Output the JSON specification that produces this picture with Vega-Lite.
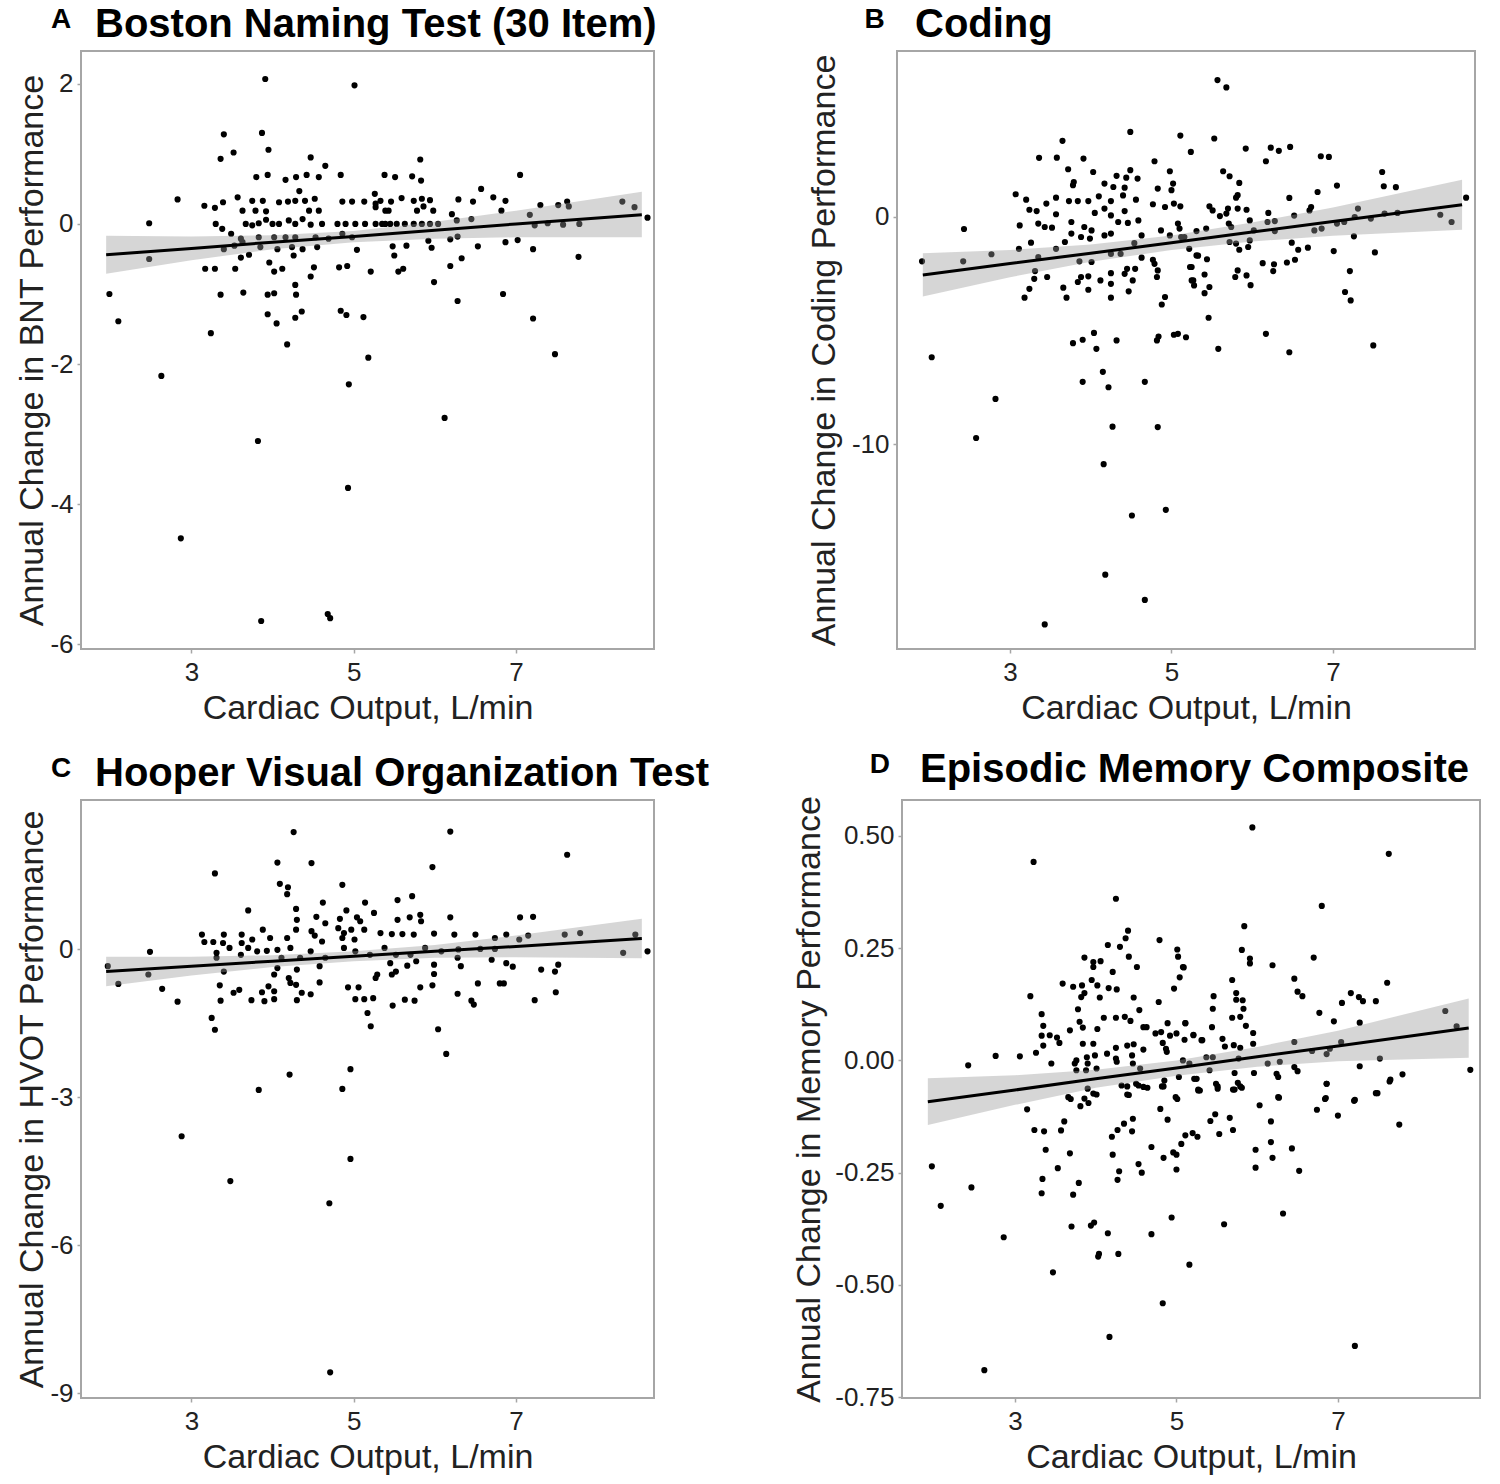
{
  "$schema": "https://vega.github.io/schema/vega-lite/v6.json",
  "background": "white",
  "padding": {"left": 14, "top": 4, "right": 4, "bottom": 4},
  "datasets": {
    "ptsA": [
      {"x":3.91,"y":2.07},{"x":5.01,"y":1.98},{"x":3.40,"y":1.28},{"x":3.87,"y":1.30},{"x":3.52,"y":1.02},{"x":3.36,"y":0.93},{"x":3.95,"y":1.06},{"x":4.47,"y":0.95},{"x":4.65,"y":0.83},{"x":3.80,"y":0.67},
      {"x":3.94,"y":0.70},{"x":4.16,"y":0.63},{"x":4.29,"y":0.67},{"x":4.42,"y":0.70},{"x":4.57,"y":0.67},{"x":4.84,"y":0.70},{"x":5.38,"y":0.70},{"x":4.33,"y":0.47},{"x":5.26,"y":0.43},{"x":2.83,"y":0.35},
      {"x":3.16,"y":0.26},{"x":3.29,"y":0.23},{"x":3.39,"y":0.31},{"x":3.57,"y":0.38},{"x":3.63,"y":0.19},{"x":3.75,"y":0.33},{"x":3.88,"y":0.33},{"x":3.79,"y":0.19},{"x":3.92,"y":0.18},{"x":4.08,"y":0.31},
      {"x":4.19,"y":0.32},{"x":4.28,"y":0.33},{"x":4.40,"y":0.33},{"x":4.52,"y":0.36},{"x":4.45,"y":0.19},{"x":4.57,"y":0.19},{"x":4.86,"y":0.32},{"x":4.98,"y":0.32},{"x":5.13,"y":0.32},{"x":5.27,"y":0.29},
      {"x":5.39,"y":0.19},{"x":2.48,"y":0.01},{"x":3.30,"y":0.0},{"x":3.38,"y":-0.07},{"x":3.49,"y":-0.14},{"x":3.67,"y":0.0},{"x":3.75,"y":-0.02},{"x":3.83,"y":0.01},{"x":3.92,"y":0.06},{"x":4.0,"y":0.0},
      {"x":4.08,"y":0.0},{"x":4.20,"y":0.05},{"x":4.28,"y":0.0},{"x":4.37,"y":0.07},{"x":4.47,"y":-0.01},{"x":4.61,"y":0.0},{"x":4.80,"y":0.0},{"x":4.90,"y":0.0},{"x":5.02,"y":0.0},{"x":5.14,"y":0.0},
      {"x":5.27,"y":0.0},{"x":5.39,"y":0.0},{"x":4.86,"y":-0.14},{"x":3.61,"y":-0.21},{"x":3.83,"y":-0.19},{"x":4.02,"y":-0.19},{"x":4.16,"y":-0.19},{"x":4.28,"y":-0.19},{"x":4.53,"y":-0.19},{"x":4.69,"y":-0.21},
      {"x":4.98,"y":-0.19},{"x":2.48,"y":-0.5},{"x":3.40,"y":-0.36},{"x":3.53,"y":-0.31},{"x":3.63,"y":-0.26},{"x":3.85,"y":-0.33},{"x":4.06,"y":-0.36},{"x":4.24,"y":-0.33},{"x":4.37,"y":-0.36},{"x":4.55,"y":-0.33},
      {"x":3.61,"y":-0.48},{"x":3.71,"y":-0.44},{"x":4.26,"y":-0.45},{"x":5.04,"y":-0.37},{"x":3.17,"y":-0.64},{"x":3.29,"y":-0.64},{"x":3.54,"y":-0.64},{"x":3.96,"y":-0.55},{"x":4.02,"y":-0.68},{"x":4.12,"y":-0.64},
      {"x":4.51,"y":-0.62},{"x":4.47,"y":-0.75},{"x":4.82,"y":-0.62},{"x":4.92,"y":-0.6},{"x":5.21,"y":-0.68},{"x":1.99,"y":-1.0},{"x":2.10,"y":-1.39},{"x":3.36,"y":-1.01},{"x":3.64,"y":-0.98},{"x":3.94,"y":-1.01},
      {"x":4.02,"y":-0.99},{"x":4.28,"y":-0.87},{"x":4.29,"y":-1.01},{"x":3.94,"y":-1.29},{"x":4.05,"y":-1.42},{"x":4.28,"y":-1.34},{"x":4.36,"y":-1.25},{"x":4.84,"y":-1.24},{"x":4.91,"y":-1.30},{"x":5.12,"y":-1.33},
      {"x":3.24,"y":-1.56},{"x":4.18,"y":-1.72},{"x":5.18,"y":-1.91},
      {"x":5.82,"y":0.92},{"x":5.51,"y":0.67},{"x":5.72,"y":0.68},{"x":5.83,"y":0.62},{"x":7.05,"y":0.70},{"x":6.57,"y":0.50},{"x":6.72,"y":0.38},{"x":6.29,"y":0.35},{"x":6.47,"y":0.32},{"x":6.87,"y":0.33},
      {"x":5.33,"y":0.33},{"x":5.27,"y":0.24},{"x":5.46,"y":0.32},{"x":5.59,"y":0.37},{"x":5.74,"y":0.33},{"x":5.84,"y":0.36},{"x":5.94,"y":0.34},{"x":5.43,"y":0.19},{"x":5.78,"y":0.19},{"x":5.86,"y":0.25},
      {"x":5.98,"y":0.19},{"x":6.21,"y":0.14},{"x":6.82,"y":0.19},{"x":7.17,"y":0.13},{"x":7.30,"y":0.27},{"x":7.52,"y":0.27},{"x":7.63,"y":0.32},{"x":7.65,"y":0.25},{"x":8.31,"y":0.32},{"x":8.46,"y":0.24},
      {"x":8.62,"y":0.09},{"x":5.35,"y":0.0},{"x":5.45,"y":0.0},{"x":5.53,"y":0.0},{"x":5.63,"y":0.0},{"x":5.74,"y":0.0},{"x":5.84,"y":0.0},{"x":5.94,"y":0.0},{"x":6.04,"y":0.0},{"x":6.27,"y":0.05},
      {"x":6.45,"y":0.07},{"x":7.23,"y":-0.02},{"x":7.39,"y":0.01},{"x":7.58,"y":-0.01},{"x":7.78,"y":0.0},{"x":5.48,"y":-0.32},{"x":5.65,"y":-0.31},{"x":5.92,"y":-0.24},{"x":5.96,"y":-0.34},{"x":6.19,"y":-0.22},
      {"x":6.28,"y":-0.18},{"x":6.53,"y":-0.32},{"x":6.87,"y":-0.26},{"x":7.02,"y":-0.23},{"x":7.21,"y":-0.36},{"x":5.50,"y":-0.45},{"x":6.33,"y":-0.49},{"x":7.77,"y":-0.47},{"x":5.55,"y":-0.68},{"x":5.61,"y":-0.64},
      {"x":6.19,"y":-0.60},{"x":5.99,"y":-0.83},{"x":6.28,"y":-1.10},{"x":6.84,"y":-1.0},{"x":7.21,"y":-1.35},{"x":7.48,"y":-1.86},
      {"x":2.63,"y":-2.17},{"x":3.82,"y":-3.1},{"x":2.87,"y":-4.49},{"x":4.94,"y":-2.29},{"x":4.93,"y":-3.77},{"x":3.86,"y":-5.67},{"x":4.68,"y":-5.57},{"x":4.71,"y":-5.63},{"x":6.12,"y":-2.77}
    ],
    "fitA": [
      {"x":1.95,"fit":-0.44,"lo":-0.71,"hi":-0.17},{"x":3,"fit":-0.35,"lo":-0.52,"hi":-0.18},{"x":4,"fit":-0.26,"lo":-0.36,"hi":-0.16},{"x":5,"fit":-0.18,"lo":-0.26,"hi":-0.10},
      {"x":6,"fit":-0.09,"lo":-0.21,"hi":0.03},{"x":7,"fit":0.0,"lo":-0.19,"hi":0.19},{"x":8.55,"fit":0.13,"lo":-0.19,"hi":0.46}
    ],
    "ptsB": [
      {"x":4.49,"y":3.74},{"x":5.11,"y":3.58},{"x":5.24,"y":2.86},{"x":3.65,"y":3.35},{"x":3.36,"y":2.60},{"x":3.58,"y":2.61},{"x":3.91,"y":2.57},{"x":4.79,"y":2.45},{"x":3.72,"y":2.10},{"x":4.03,"y":1.98},
      {"x":4.49,"y":2.06},{"x":4.98,"y":2.01},{"x":4.32,"y":1.81},{"x":4.44,"y":1.73},{"x":4.58,"y":1.69},{"x":3.78,"y":1.40},{"x":3.79,"y":1.54},{"x":4.17,"y":1.47},{"x":4.28,"y":1.32},{"x":4.42,"y":1.29},
      {"x":4.83,"y":1.25},{"x":5.02,"y":1.47},{"x":5.0,"y":1.18},{"x":3.07,"y":1.0},{"x":3.20,"y":0.76},{"x":3.57,"y":0.85},{"x":3.45,"y":0.59},{"x":3.73,"y":0.70},{"x":3.84,"y":0.70},{"x":3.97,"y":0.70},
      {"x":4.10,"y":0.91},{"x":4.25,"y":0.70},{"x":4.40,"y":0.95},{"x":4.56,"y":0.76},{"x":4.77,"y":0.56},{"x":4.92,"y":0.44},{"x":5.03,"y":0.59},{"x":5.11,"y":0.47},{"x":3.24,"y":0.32},{"x":3.33,"y":0.26},
      {"x":3.57,"y":0.12},{"x":4.05,"y":0.18},{"x":4.17,"y":0.37},{"x":4.25,"y":0.07},{"x":4.42,"y":0.26},{"x":3.76,"y":-0.22},{"x":3.12,"y":-0.37},{"x":3.35,"y":-0.29},{"x":3.43,"y":-0.44},{"x":3.52,"y":-0.47},
      {"x":3.92,"y":-0.44},{"x":4.01,"y":-0.59},{"x":4.34,"y":-0.22},{"x":4.46,"y":-0.26},{"x":4.59,"y":-0.15},{"x":4.63,"y":-0.81},{"x":2.43,"y":-0.53},{"x":3.68,"y":-1.10},{"x":3.76,"y":-0.73},{"x":3.88,"y":-0.88},
      {"x":3.99,"y":-0.95},{"x":4.17,"y":-0.81},{"x":4.25,"y":-0.73},{"x":4.87,"y":-0.59},{"x":4.98,"y":-0.81},{"x":5.10,"y":-0.51},{"x":5.16,"y":-0.88},{"x":3.26,"y":-1.13},{"x":4.54,"y":-1.15},{"x":3.11,"y":-1.40},
      {"x":3.57,"y":-1.40},{"x":2.77,"y":-1.64},{"x":1.91,"y":-1.95},{"x":2.42,"y":-1.95},{"x":3.35,"y":-1.76},{"x":3.86,"y":-1.95},{"x":4.01,"y":-1.98},{"x":4.25,"y":-1.62},{"x":4.37,"y":-1.62},{"x":4.63,"y":-1.79},
      {"x":4.77,"y":-1.88},{"x":4.79,"y":-2.06},{"x":5.31,"y":-1.69},{"x":3.31,"y":-2.38},{"x":3.30,"y":-2.72},{"x":3.46,"y":-2.64},{"x":3.88,"y":-2.64},{"x":3.84,"y":-2.86},{"x":3.97,"y":-2.61},{"x":4.12,"y":-2.79},
      {"x":4.25,"y":-2.47},{"x":4.25,"y":-2.94},{"x":4.42,"y":-2.50},{"x":4.45,"y":-2.28},{"x":4.55,"y":-2.28},{"x":4.52,"y":-2.79},{"x":4.83,"y":-2.35},{"x":4.82,"y":-2.64},{"x":5.25,"y":-2.20},{"x":5.27,"y":-2.79},
      {"x":5.28,"y":-3.01},{"x":3.24,"y":-3.16},{"x":3.18,"y":-3.55},{"x":3.66,"y":-3.11},{"x":3.70,"y":-3.55},{"x":3.97,"y":-3.20},{"x":4.25,"y":-3.55},{"x":4.47,"y":-3.27},{"x":4.92,"y":-3.52},{"x":4.88,"y":-3.85},
      {"x":3.78,"y":-5.55},{"x":3.90,"y":-5.40},{"x":4.04,"y":-5.10},{"x":4.07,"y":-5.80},{"x":4.32,"y":-5.43},{"x":4.82,"y":-5.43},{"x":4.84,"y":-5.26},{"x":5.03,"y":-5.18},{"x":5.18,"y":-5.29},{"x":2.03,"y":-6.17},
      {"x":5.57,"y":6.02},{"x":5.68,"y":5.70},{"x":5.53,"y":3.45},{"x":5.92,"y":3.01},{"x":6.17,"y":2.45},{"x":6.23,"y":3.05},{"x":6.33,"y":2.91},{"x":6.47,"y":3.08},{"x":6.85,"y":2.67},{"x":6.95,"y":2.64},
      {"x":7.61,"y":1.98},{"x":7.63,"y":1.35},{"x":7.78,"y":1.31},{"x":7.05,"y":1.38},{"x":6.81,"y":1.10},{"x":6.46,"y":0.84},{"x":6.73,"y":0.44},{"x":6.71,"y":0.29},{"x":5.64,"y":2.01},{"x":5.72,"y":1.79},
      {"x":5.84,"y":1.50},{"x":5.80,"y":0.85},{"x":5.82,"y":0.96},{"x":5.47,"y":0.47},{"x":5.51,"y":0.29},{"x":5.60,"y":0.04},{"x":5.70,"y":0.37},{"x":5.82,"y":0.37},{"x":5.93,"y":0.32},{"x":5.68,"y":0.15},
      {"x":5.71,"y":-0.29},{"x":5.74,"y":-0.44},{"x":5.97,"y":-0.15},{"x":6.20,"y":0.18},{"x":6.19,"y":-0.22},{"x":6.28,"y":-0.18},{"x":6.52,"y":0.06},{"x":5.08,"y":-0.29},{"x":5.12,"y":-0.88},{"x":5.31,"y":-0.62},
      {"x":5.43,"y":-0.51},{"x":6.02,"y":-0.59},{"x":6.28,"y":-0.62},{"x":6.77,"y":-0.59},{"x":6.86,"y":-0.51},{"x":7.05,"y":-0.29},{"x":7.14,"y":-0.22},{"x":7.31,"y":0.37},{"x":7.27,"y":0.0},{"x":7.47,"y":-0.07},
      {"x":7.64,"y":0.15},{"x":7.80,"y":0.18},{"x":8.33,"y":0.10},{"x":8.47,"y":-0.22},{"x":8.65,"y":0.85},{"x":7.26,"y":-0.85},{"x":5.72,"y":-1.10},{"x":5.80,"y":-1.17},{"x":5.84,"y":-1.44},{"x":5.97,"y":-1.03},
      {"x":5.95,"y":-1.32},{"x":5.22,"y":-1.40},{"x":6.49,"y":-1.13},{"x":6.57,"y":-1.44},{"x":6.69,"y":-1.35},{"x":7.01,"y":-1.50},{"x":7.52,"y":-1.56},{"x":5.33,"y":-1.70},{"x":5.44,"y":-1.86},{"x":5.23,"y":-2.20},
      {"x":5.41,"y":-2.53},{"x":5.25,"y":-2.79},{"x":5.41,"y":-3.35},{"x":5.47,"y":-3.08},{"x":6.13,"y":-2.03},{"x":6.27,"y":-2.08},{"x":6.26,"y":-2.38},{"x":6.43,"y":-2.0},{"x":6.53,"y":-1.88},{"x":5.82,"y":-2.35},
      {"x":5.79,"y":-2.64},{"x":5.93,"y":-2.57},{"x":5.98,"y":-3.0},{"x":7.21,"y":-2.38},{"x":7.15,"y":-3.30},{"x":7.22,"y":-3.67},{"x":5.46,"y":-4.43},{"x":5.08,"y":-5.14},{"x":6.17,"y":-5.14},{"x":7.50,"y":-5.65},
      {"x":5.58,"y":-5.80},{"x":6.46,"y":-5.95},
      {"x":2.82,"y":-8.0},{"x":2.58,"y":-9.72},{"x":4.15,"y":-6.81},{"x":3.90,"y":-7.25},{"x":4.22,"y":-7.49},{"x":4.67,"y":-7.25},{"x":4.27,"y":-9.22},{"x":4.83,"y":-9.24},{"x":4.16,"y":-10.87},{"x":4.51,"y":-13.13},
      {"x":4.93,"y":-12.88},{"x":4.18,"y":-15.73},{"x":4.67,"y":-16.84},{"x":3.43,"y":-17.92}
    ],
    "fitB": [
      {"x":1.92,"fit":-2.55,"lo":-3.50,"hi":-1.60},{"x":3,"fit":-2.05,"lo":-2.65,"hi":-1.45},{"x":4,"fit":-1.59,"lo":-1.97,"hi":-1.21},{"x":5,"fit":-1.13,"lo":-1.45,"hi":-0.81},
      {"x":6,"fit":-0.66,"lo":-1.08,"hi":-0.24},{"x":7,"fit":-0.20,"lo":-0.82,"hi":0.42},{"x":8.6,"fit":0.54,"lo":-0.56,"hi":1.64}
    ],
    "ptsC": [
      {"x":4.26,"y":2.38},{"x":6.19,"y":2.39},{"x":7.63,"y":1.92},{"x":3.29,"y":1.54},{"x":4.06,"y":1.76},{"x":4.48,"y":1.75},{"x":5.97,"y":1.67},{"x":4.09,"y":1.33},{"x":4.19,"y":1.26},{"x":4.18,"y":1.12},
      {"x":4.86,"y":1.31},{"x":3.70,"y":0.79},{"x":4.62,"y":0.95},{"x":5.14,"y":0.95},{"x":5.54,"y":1.00},{"x":5.72,"y":1.08},{"x":4.29,"y":0.82},{"x":4.91,"y":0.79},{"x":5.25,"y":0.74},{"x":4.54,"y":0.66},
      {"x":4.65,"y":0.53},{"x":4.83,"y":0.62},{"x":5.04,"y":0.65},{"x":5.08,"y":0.57},{"x":5.54,"y":0.60},{"x":5.69,"y":0.65},{"x":5.82,"y":0.70},{"x":5.83,"y":0.57},{"x":6.19,"y":0.65},{"x":7.05,"y":0.65},
      {"x":7.21,"y":0.66},{"x":4.30,"y":0.60},{"x":4.29,"y":0.40},{"x":4.48,"y":0.37},{"x":4.52,"y":0.28},{"x":4.61,"y":0.16},{"x":4.81,"y":0.43},{"x":4.88,"y":0.33},{"x":4.86,"y":0.23},{"x":4.97,"y":0.40},
      {"x":5.01,"y":0.20},{"x":5.13,"y":0.40},{"x":5.33,"y":0.33},{"x":5.47,"y":0.31},{"x":5.60,"y":0.31},{"x":5.74,"y":0.30},{"x":5.99,"y":0.32},{"x":6.24,"y":0.30},{"x":6.50,"y":0.30},{"x":6.74,"y":0.23},
      {"x":6.88,"y":0.30},{"x":7.04,"y":0.20},{"x":7.15,"y":0.28},{"x":7.60,"y":0.30},{"x":7.79,"y":0.33},{"x":8.47,"y":0.30},{"x":3.13,"y":0.30},{"x":3.16,"y":0.15},{"x":3.27,"y":0.15},{"x":3.40,"y":0.30},
      {"x":3.39,"y":0.13},{"x":3.62,"y":0.30},{"x":3.62,"y":0.13},{"x":3.75,"y":0.20},{"x":3.88,"y":0.40},{"x":3.97,"y":0.23},{"x":4.18,"y":0.23},{"x":3.47,"y":0.03},{"x":3.31,"y":-0.07},{"x":3.31,"y":-0.17},
      {"x":3.61,"y":-0.11},{"x":3.70,"y":0.03},{"x":3.81,"y":-0.04},{"x":3.93,"y":-0.03},{"x":4.06,"y":-0.01},{"x":4.11,"y":-0.17},{"x":4.22,"y":0.03},{"x":4.34,"y":-0.17},{"x":4.47,"y":-0.04},{"x":4.65,"y":-0.17},
      {"x":4.88,"y":0.03},{"x":5.02,"y":-0.04},{"x":5.20,"y":-0.11},{"x":5.38,"y":0.03},{"x":5.52,"y":-0.11},{"x":5.70,"y":-0.11},{"x":5.88,"y":0.03},{"x":6.08,"y":-0.04},{"x":6.29,"y":0.0},{"x":6.56,"y":0.01},
      {"x":6.74,"y":0.01},{"x":8.32,"y":-0.07},{"x":8.62,"y":-0.04},{"x":2.49,"y":-0.05},{"x":1.97,"y":-0.34},{"x":2.10,"y":-0.70},{"x":2.47,"y":-0.51},{"x":2.64,"y":-0.80},{"x":2.83,"y":-1.06},{"x":3.40,"y":-0.45},
      {"x":3.35,"y":-0.73},{"x":3.36,"y":-1.04},{"x":3.52,"y":-0.88},{"x":3.59,"y":-0.82},{"x":3.74,"y":-1.03},{"x":3.87,"y":-0.87},{"x":3.90,"y":-1.05},{"x":3.95,"y":-0.75},{"x":4.02,"y":-0.85},{"x":4.02,"y":-1.01},
      {"x":4.02,"y":-0.51},{"x":4.06,"y":-0.38},{"x":4.20,"y":-0.58},{"x":4.22,"y":-0.68},{"x":4.29,"y":-0.72},{"x":4.30,"y":-0.41},{"x":4.30,"y":-1.03},{"x":4.36,"y":-0.88},{"x":4.47,"y":-0.91},{"x":4.58,"y":-0.34},
      {"x":4.58,"y":-0.67},{"x":4.93,"y":-0.77},{"x":5.06,"y":-0.77},{"x":5.02,"y":-1.01},{"x":5.13,"y":-1.01},{"x":5.24,"y":-0.99},{"x":5.17,"y":-1.29},{"x":5.21,"y":-1.56},{"x":5.29,"y":-0.51},{"x":5.27,"y":-0.58},
      {"x":5.48,"y":-1.14},{"x":5.47,"y":-0.51},{"x":5.52,"y":-0.45},{"x":5.66,"y":-0.33},{"x":5.45,"y":-0.28},{"x":5.63,"y":-1.02},{"x":5.75,"y":-1.04},{"x":5.77,"y":-0.24},{"x":5.82,"y":-0.77},{"x":5.99,"y":-0.31},
      {"x":5.99,"y":-0.50},{"x":5.97,"y":-0.73},{"x":6.04,"y":-1.62},{"x":6.14,"y":-2.12},{"x":6.28,"y":-0.17},{"x":6.32,"y":-0.34},{"x":6.28,"y":-0.90},{"x":6.45,"y":-1.04},{"x":6.48,"y":-1.12},{"x":6.53,"y":-0.69},
      {"x":6.70,"y":-0.21},{"x":6.80,"y":-0.69},{"x":6.85,"y":-0.69},{"x":6.88,"y":-0.28},{"x":6.96,"y":-0.35},{"x":7.23,"y":-1.03},{"x":7.31,"y":-0.41},{"x":7.48,"y":-0.45},{"x":7.52,"y":-0.31},{"x":7.49,"y":-0.87},
      {"x":3.25,"y":-1.39},{"x":3.29,"y":-1.63},
      {"x":4.96,"y":-2.43},{"x":4.21,"y":-2.54},{"x":3.83,"y":-2.85},{"x":4.86,"y":-2.83},{"x":2.88,"y":-3.79},{"x":4.96,"y":-4.25},{"x":3.48,"y":-4.70},{"x":4.70,"y":-5.15},{"x":4.71,"y":-8.58}
    ],
    "fitC": [
      {"x":1.95,"fit":-0.45,"lo":-0.75,"hi":-0.15},{"x":3,"fit":-0.34,"lo":-0.53,"hi":-0.15},{"x":4,"fit":-0.24,"lo":-0.36,"hi":-0.12},{"x":5,"fit":-0.14,"lo":-0.24,"hi":-0.04},
      {"x":6,"fit":-0.04,"lo":-0.17,"hi":0.09},{"x":7,"fit":0.06,"lo":-0.16,"hi":0.28},{"x":8.55,"fit":0.22,"lo":-0.18,"hi":0.62}
    ],
    "ptsD": [
      {"x":3.23,"y":0.442},{"x":4.25,"y":0.360},{"x":4.40,"y":0.289},{"x":4.37,"y":0.272},{"x":4.15,"y":0.257},{"x":4.30,"y":0.253},{"x":4.79,"y":0.268},{"x":3.86,"y":0.229},{"x":3.97,"y":0.219},{"x":3.97,"y":0.208},
      {"x":4.06,"y":0.221},{"x":4.41,"y":0.231},{"x":4.51,"y":0.208},{"x":4.21,"y":0.197},{"x":5.01,"y":0.247},{"x":5.02,"y":0.231},{"x":5.09,"y":0.207},{"x":5.04,"y":0.185},{"x":4.97,"y":0.160},{"x":4.78,"y":0.130},
      {"x":3.59,"y":0.171},{"x":3.72,"y":0.164},{"x":3.83,"y":0.167},{"x":3.95,"y":0.179},{"x":4.02,"y":0.167},{"x":3.86,"y":0.150},{"x":3.82,"y":0.141},{"x":4.16,"y":0.161},{"x":4.26,"y":0.158},{"x":3.19,"y":0.143},
      {"x":4.05,"y":0.140},{"x":4.47,"y":0.140},{"x":3.78,"y":0.114},{"x":4.54,"y":0.112},{"x":3.33,"y":0.103},{"x":4.10,"y":0.095},{"x":4.25,"y":0.095},{"x":4.36,"y":0.097},{"x":4.43,"y":0.088},{"x":3.35,"y":0.077},
      {"x":3.33,"y":0.055},{"x":3.43,"y":0.056},{"x":3.52,"y":0.051},{"x":3.55,"y":0.039},{"x":3.68,"y":0.067},{"x":3.80,"y":0.086},{"x":3.84,"y":0.073},{"x":4.02,"y":0.070},{"x":4.59,"y":0.074},{"x":4.63,"y":0.074},
      {"x":4.74,"y":0.060},{"x":4.81,"y":0.063},{"x":4.92,"y":0.055},{"x":5.00,"y":0.060},{"x":4.89,"y":0.083},{"x":5.11,"y":0.083},{"x":5.10,"y":0.046},{"x":5.21,"y":0.056},{"x":5.31,"y":0.045},{"x":3.35,"y":0.033},
      {"x":3.84,"y":0.037},{"x":3.97,"y":0.037},{"x":4.25,"y":0.028},{"x":4.39,"y":0.033},{"x":4.47,"y":0.036},{"x":4.59,"y":0.024},{"x":4.83,"y":0.039},{"x":4.87,"y":0.026},{"x":4.88,"y":0.019},{"x":3.26,"y":0.017},
      {"x":2.76,"y":0.010},{"x":3.06,"y":0.009},{"x":2.42,"y":-0.011},{"x":3.45,"y":-0.007},{"x":3.76,"y":0.0},{"x":3.74,"y":-0.007},{"x":3.89,"y":0.007},{"x":3.99,"y":0.011},{"x":3.90,"y":-0.007},{"x":4.14,"y":0.015},
      {"x":4.25,"y":0.004},{"x":4.26,"y":-0.003},{"x":4.45,"y":0.011},{"x":4.46,"y":-0.007},{"x":3.76,"y":-0.022},{"x":3.88,"y":-0.022},{"x":4.01,"y":-0.018},{"x":4.55,"y":-0.018},{"x":4.85,"y":-0.045},{"x":5.03,"y":-0.037},
      {"x":5.25,"y":-0.041},{"x":3.90,"y":-0.063},{"x":3.97,"y":-0.074},{"x":4.32,"y":-0.056},{"x":4.39,"y":-0.076},{"x":4.50,"y":-0.052},{"x":4.59,"y":-0.059},{"x":4.82,"y":-0.058},{"x":4.99,"y":-0.082},{"x":5.27,"y":-0.065},
      {"x":3.66,"y":-0.082},{"x":3.86,"y":-0.085},
      {"x":5.94,"y":0.519},{"x":7.63,"y":0.460},{"x":6.80,"y":0.344},{"x":5.84,"y":0.299},{"x":5.81,"y":0.246},{"x":5.91,"y":0.227},{"x":5.91,"y":0.216},{"x":6.19,"y":0.212},{"x":6.70,"y":0.229},{"x":5.08,"y":0.208},
      {"x":5.69,"y":0.179},{"x":6.46,"y":0.182},{"x":5.74,"y":0.150},{"x":5.74,"y":0.135},{"x":5.82,"y":0.134},{"x":5.46,"y":0.143},{"x":6.50,"y":0.153},{"x":6.56,"y":0.143},{"x":7.16,"y":0.150},{"x":7.26,"y":0.141},
      {"x":7.31,"y":0.132},{"x":7.47,"y":0.132},{"x":7.61,"y":0.173},{"x":7.05,"y":0.128},{"x":5.45,"y":0.115},{"x":5.83,"y":0.115},{"x":6.77,"y":0.106},{"x":5.69,"y":0.095},{"x":5.79,"y":0.097},{"x":6.95,"y":0.087},
      {"x":7.27,"y":0.084},{"x":8.33,"y":0.110},{"x":5.11,"y":0.083},{"x":5.44,"y":0.074},{"x":5.86,"y":0.077},{"x":5.95,"y":0.061},{"x":5.95,"y":0.037},{"x":5.21,"y":0.057},{"x":5.32,"y":0.045},{"x":5.57,"y":0.048},
      {"x":5.60,"y":0.031},{"x":5.71,"y":0.034},{"x":5.79,"y":0.028},{"x":6.46,"y":0.041},{"x":7.04,"y":0.041},{"x":8.47,"y":0.076},{"x":5.08,"y":0.0},{"x":5.16,"y":-0.007},{"x":5.37,"y":0.007},{"x":5.45,"y":0.007},
      {"x":5.41,"y":-0.022},{"x":5.77,"y":0.004},{"x":6.13,"y":-0.007},{"x":6.28,"y":-0.003},{"x":6.68,"y":0.021},{"x":6.86,"y":0.014},{"x":6.90,"y":0.026},{"x":7.52,"y":0.004},{"x":6.46,"y":-0.015},{"x":6.50,"y":-0.024},
      {"x":7.27,"y":-0.013},{"x":5.72,"y":-0.028},{"x":5.96,"y":-0.028},{"x":6.24,"y":-0.030},{"x":6.26,"y":-0.037},{"x":8.64,"y":-0.021},{"x":5.22,"y":-0.041},{"x":5.27,"y":-0.067},{"x":5.49,"y":-0.052},{"x":5.51,"y":-0.063},
      {"x":5.70,"y":-0.065},{"x":5.76,"y":-0.050},{"x":5.81,"y":-0.061},{"x":6.86,"y":-0.052},{"x":7.65,"y":-0.043},{"x":7.80,"y":-0.031},{"x":6.26,"y":-0.082},{"x":6.85,"y":-0.084},{"x":7.21,"y":-0.088},{"x":7.49,"y":-0.073},
      {"x":3.69,"y":-0.086},{"x":3.81,"y":-0.102},{"x":3.91,"y":-0.095},{"x":4.01,"y":-0.076},{"x":3.15,"y":-0.109},{"x":3.24,"y":-0.155},{"x":3.36,"y":-0.158},{"x":3.57,"y":-0.156},{"x":3.61,"y":-0.136},{"x":3.38,"y":-0.199},
      {"x":3.68,"y":-0.207},{"x":3.53,"y":-0.240},{"x":3.34,"y":-0.264},{"x":3.33,"y":-0.296},{"x":3.79,"y":-0.273},{"x":3.72,"y":-0.299},{"x":4.20,"y":-0.170},{"x":4.27,"y":-0.155},{"x":4.35,"y":-0.141},{"x":4.46,"y":-0.130},
      {"x":4.45,"y":-0.158},{"x":4.41,"y":-0.077},{"x":4.21,"y":-0.210},{"x":4.29,"y":-0.247},{"x":4.27,"y":-0.266},{"x":4.53,"y":-0.231},{"x":4.57,"y":-0.250},{"x":4.69,"y":-0.193},{"x":4.80,"y":-0.108},{"x":4.89,"y":-0.132},
      {"x":5.01,"y":-0.086},{"x":4.84,"y":-0.217},{"x":4.96,"y":-0.205},{"x":5.00,"y":-0.210},{"x":5.06,"y":-0.186},{"x":5.11,"y":-0.167},{"x":5.20,"y":-0.162},{"x":5.26,"y":-0.170},{"x":5.00,"y":-0.243},{"x":5.42,"y":-0.135},
      {"x":5.48,"y":-0.120},{"x":5.53,"y":-0.164},{"x":5.66,"y":-0.128},{"x":5.70,"y":-0.155},{"x":5.29,"y":-0.067},{"x":5.51,"y":-0.058},{"x":5.72,"y":-0.065},{"x":5.79,"y":-0.058},{"x":4.84,"y":-0.058},{"x":4.39,"y":-0.058},
      {"x":4.53,"y":-0.056},{"x":4.64,"y":-0.061},{"x":6.03,"y":-0.100},{"x":6.27,"y":-0.083},{"x":6.17,"y":-0.136},{"x":5.98,"y":-0.199},{"x":6.17,"y":-0.182},{"x":6.19,"y":-0.217},{"x":5.98,"y":-0.239},{"x":6.43,"y":-0.196},
      {"x":6.52,"y":-0.246},{"x":6.32,"y":-0.341},{"x":6.74,"y":-0.110},{"x":6.84,"y":-0.086},{"x":6.86,"y":-0.052},{"x":7.00,"y":-0.123},{"x":7.20,"y":-0.090},{"x":7.47,"y":-0.073},{"x":7.64,"y":-0.047},{"x":7.76,"y":-0.143},
      {"x":7.21,"y":-0.636},{"x":1.97,"y":-0.236},{"x":2.08,"y":-0.324},{"x":2.46,"y":-0.283},{"x":2.86,"y":-0.394},{"x":2.62,"y":-0.690},{"x":3.47,"y":-0.472},{"x":3.70,"y":-0.370},{"x":3.94,"y":-0.368},{"x":3.98,"y":-0.361},
      {"x":4.15,"y":-0.385},{"x":4.04,"y":-0.431},{"x":4.03,"y":-0.437},{"x":4.28,"y":-0.431},{"x":4.69,"y":-0.387},{"x":4.94,"y":-0.350},{"x":5.59,"y":-0.365},{"x":5.16,"y":-0.455},{"x":4.83,"y":-0.541},{"x":4.17,"y":-0.616}
    ],
    "fitD": [
      {"x":1.92,"fit":-0.092,"lo":-0.144,"hi":-0.040},{"x":3,"fit":-0.066,"lo":-0.099,"hi":-0.033},{"x":4,"fit":-0.041,"lo":-0.061,"hi":-0.021},{"x":5,"fit":-0.017,"lo":-0.034,"hi":0.0},
      {"x":6,"fit":0.008,"lo":-0.014,"hi":0.030},{"x":7,"fit":0.032,"lo":-0.002,"hi":0.066},{"x":8.62,"fit":0.072,"lo":0.006,"hi":0.138}
    ]
  },
  "vconcat": [
    {
      "hconcat": [
        {
          "title": {"text": "A", "fontSize": 28, "dx": 36, "dy": 34},
          "vconcat": [
            {
              "width": 573, "height": 598,
              "title": {"text": "Boston Naming Test (30 Item)", "fontSize": 40, "frame": "group", "dx": 14, "offset": 6},
              "layer": [
                {"data": {"name": "ptsA"}, "mark": {"type": "circle", "size": 38, "color": "black", "opacity": 1},
                 "encoding": {
                   "x": {"field": "x", "type": "quantitative", "title": "Cardiac Output, L/min", "scale": {"domain": [1.64, 8.7], "nice": false, "zero": false}, "axis": {"values": [3, 5, 7], "format": "d"}},
                   "y": {"field": "y", "type": "quantitative", "title": "Annual Change in BNT Performance", "scale": {"domain": [-6.07, 2.47], "nice": false, "zero": false}, "axis": {"values": [-6, -4, -2, 0, 2], "labelExpr": "datum.value < 0 ? '-' + format(-datum.value, 'd') : format(datum.value, 'd')"}}}},
                {"data": {"name": "fitA"}, "mark": {"type": "area", "color": "#999999", "opacity": 0.4},
                 "encoding": {
                   "x": {"field": "x", "type": "quantitative", "title": "Cardiac Output, L/min", "scale": {"domain": [1.64, 8.7], "nice": false, "zero": false}},
                   "y": {"field": "lo", "type": "quantitative", "title": "Annual Change in BNT Performance", "scale": {"domain": [-6.07, 2.47], "nice": false, "zero": false}},
                   "y2": {"field": "hi"}}},
                {"data": {"name": "fitA"}, "mark": {"type": "line", "color": "black", "strokeWidth": 3},
                 "encoding": {
                   "x": {"field": "x", "type": "quantitative", "title": "Cardiac Output, L/min", "scale": {"domain": [1.64, 8.7], "nice": false, "zero": false}},
                   "y": {"field": "fit", "type": "quantitative", "title": "Annual Change in BNT Performance", "scale": {"domain": [-6.07, 2.47], "nice": false, "zero": false}}}}
              ]
            }
          ]
        },
        {
          "title": {"text": "B", "fontSize": 28, "dx": 58, "dy": 34},
          "vconcat": [
            {
              "width": 578, "height": 598,
              "title": {"text": "Coding", "fontSize": 40, "frame": "group", "dx": 18, "offset": 6},
              "layer": [
                {"data": {"name": "ptsB"}, "mark": {"type": "circle", "size": 38, "color": "black", "opacity": 1},
                 "encoding": {
                   "x": {"field": "x", "type": "quantitative", "title": "Cardiac Output, L/min", "scale": {"domain": [1.6, 8.76], "nice": false, "zero": false}, "axis": {"values": [3, 5, 7], "format": "d"}},
                   "y": {"field": "y", "type": "quantitative", "title": "Annual Change in Coding Performance", "scale": {"domain": [-19.0, 7.3], "nice": false, "zero": false}, "axis": {"values": [-10, 0], "titlePadding": 10, "labelExpr": "datum.value < 0 ? '-' + format(-datum.value, 'd') : format(datum.value, 'd')"}}}},
                {"data": {"name": "fitB"}, "mark": {"type": "area", "color": "#999999", "opacity": 0.4},
                 "encoding": {
                   "x": {"field": "x", "type": "quantitative", "title": "Cardiac Output, L/min", "scale": {"domain": [1.6, 8.76], "nice": false, "zero": false}},
                   "y": {"field": "lo", "type": "quantitative", "title": "Annual Change in Coding Performance", "scale": {"domain": [-19.0, 7.3], "nice": false, "zero": false}},
                   "y2": {"field": "hi"}}},
                {"data": {"name": "fitB"}, "mark": {"type": "line", "color": "black", "strokeWidth": 3},
                 "encoding": {
                   "x": {"field": "x", "type": "quantitative", "title": "Cardiac Output, L/min", "scale": {"domain": [1.6, 8.76], "nice": false, "zero": false}},
                   "y": {"field": "fit", "type": "quantitative", "title": "Annual Change in Coding Performance", "scale": {"domain": [-19.0, 7.3], "nice": false, "zero": false}}}}
              ]
            }
          ]
        }
      ],
      "spacing": 148
    },
    {
      "hconcat": [
        {
          "title": {"text": "C", "fontSize": 28, "dx": 36, "dy": 34},
          "vconcat": [
            {
              "width": 573, "height": 598,
              "title": {"text": "Hooper Visual Organization Test", "fontSize": 40, "frame": "group", "dx": 14, "offset": 6},
              "layer": [
                {"data": {"name": "ptsC"}, "mark": {"type": "circle", "size": 38, "color": "black", "opacity": 1},
                 "encoding": {
                   "x": {"field": "x", "type": "quantitative", "title": "Cardiac Output, L/min", "scale": {"domain": [1.64, 8.7], "nice": false, "zero": false}, "axis": {"values": [3, 5, 7], "format": "d"}},
                   "y": {"field": "y", "type": "quantitative", "title": "Annual Change in HVOT Performance", "scale": {"domain": [-9.1, 3.03], "nice": false, "zero": false}, "axis": {"values": [-9, -6, -3, 0], "labelExpr": "datum.value < 0 ? '-' + format(-datum.value, 'd') : format(datum.value, 'd')"}}}},
                {"data": {"name": "fitC"}, "mark": {"type": "area", "color": "#999999", "opacity": 0.4},
                 "encoding": {
                   "x": {"field": "x", "type": "quantitative", "title": "Cardiac Output, L/min", "scale": {"domain": [1.64, 8.7], "nice": false, "zero": false}},
                   "y": {"field": "lo", "type": "quantitative", "title": "Annual Change in HVOT Performance", "scale": {"domain": [-9.1, 3.03], "nice": false, "zero": false}},
                   "y2": {"field": "hi"}}},
                {"data": {"name": "fitC"}, "mark": {"type": "line", "color": "black", "strokeWidth": 3},
                 "encoding": {
                   "x": {"field": "x", "type": "quantitative", "title": "Cardiac Output, L/min", "scale": {"domain": [1.64, 8.7], "nice": false, "zero": false}},
                   "y": {"field": "fit", "type": "quantitative", "title": "Annual Change in HVOT Performance", "scale": {"domain": [-9.1, 3.03], "nice": false, "zero": false}}}}
              ]
            }
          ]
        },
        {
          "title": {"text": "D", "fontSize": 28, "dx": 78, "dy": 34},
          "vconcat": [
            {
              "width": 578, "height": 598,
              "title": {"text": "Episodic Memory Composite", "fontSize": 40, "frame": "group", "dx": 18, "offset": 6},
              "layer": [
                {"data": {"name": "ptsD"}, "mark": {"type": "circle", "size": 38, "color": "black", "opacity": 1},
                 "encoding": {
                   "x": {"field": "x", "type": "quantitative", "title": "Cardiac Output, L/min", "scale": {"domain": [1.6, 8.76], "nice": false, "zero": false}, "axis": {"values": [3, 5, 7], "format": "d"}},
                   "y": {"field": "y", "type": "quantitative", "title": "Annual Change in Memory Performance", "scale": {"domain": [-0.752, 0.58], "nice": false, "zero": false}, "axis": {"values": [-0.75, -0.5, -0.25, 0, 0.25, 0.5], "titlePadding": 8, "labelExpr": "datum.value < 0 ? '-' + format(-datum.value, '.2f') : format(datum.value, '.2f')"}}}},
                {"data": {"name": "fitD"}, "mark": {"type": "area", "color": "#999999", "opacity": 0.4},
                 "encoding": {
                   "x": {"field": "x", "type": "quantitative", "title": "Cardiac Output, L/min", "scale": {"domain": [1.6, 8.76], "nice": false, "zero": false}},
                   "y": {"field": "lo", "type": "quantitative", "title": "Annual Change in Memory Performance", "scale": {"domain": [-0.752, 0.58], "nice": false, "zero": false}},
                   "y2": {"field": "hi"}}},
                {"data": {"name": "fitD"}, "mark": {"type": "line", "color": "black", "strokeWidth": 3},
                 "encoding": {
                   "x": {"field": "x", "type": "quantitative", "title": "Cardiac Output, L/min", "scale": {"domain": [1.6, 8.76], "nice": false, "zero": false}},
                   "y": {"field": "fit", "type": "quantitative", "title": "Annual Change in Memory Performance", "scale": {"domain": [-0.752, 0.58], "nice": false, "zero": false}}}}
              ]
            }
          ]
        }
      ],
      "spacing": 80
    }
  ],
  "spacing": 22,
  "config": {
    "font": "Liberation Sans",
    "view": {"stroke": "#a6a6a6", "strokeWidth": 2},
    "axis": {
      "grid": false, "domain": false, "tickColor": "#a6a6a6", "tickSize": 4, "tickWidth": 1.5,
      "labelFont": "Liberation Sans", "labelFontSize": 26, "labelColor": "#222222", "labelFlush": false,
      "titleFont": "Liberation Sans", "titleFontSize": 34, "titleFontWeight": "normal", "titleColor": "#222222"
    },
    "axisX": {"labelPadding": 6, "titlePadding": 6},
    "axisY": {"labelPadding": 4, "titlePadding": 0},
    "title": {"font": "Liberation Sans", "fontWeight": "bold", "color": "#000000", "anchor": "start"}
  }
}
